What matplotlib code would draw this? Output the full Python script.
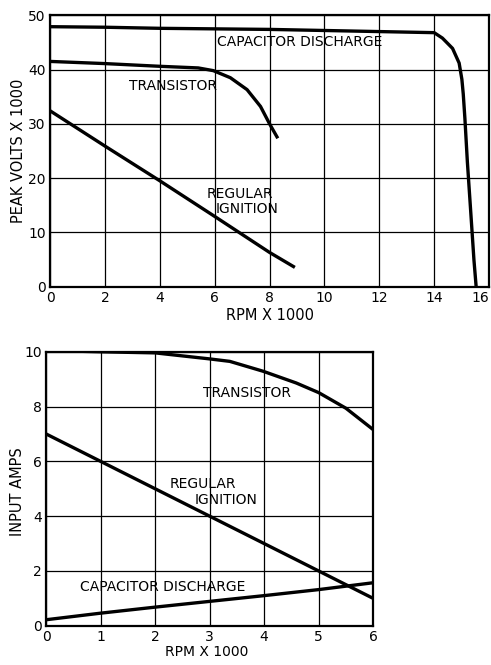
import matplotlib.pyplot as plt

# --- haut : tension de crête en fonction du régime ---
rpm_cd_top = [0, 2, 4, 6, 8, 10, 12, 14, 14.3, 14.67, 14.91, 15.01, 15.06, 15.12, 15.21, 15.33, 15.45, 15.53]
volts_cd = [47.9, 47.8, 47.6, 47.5, 47.4, 47.2, 47.0, 46.8, 45.8, 43.9, 41.2, 38.2, 35.5, 31.0, 23.0, 14.0, 4.9, 0.0]

rpm_tr_top = [0, 2, 4, 5.4, 5.95, 6.57, 7.18, 7.67, 8.0, 8.27]
volts_tr = [41.5, 41.1, 40.6, 40.3, 39.8, 38.5, 36.3, 33.2, 30.0, 27.6]

rpm_reg_top = [0, 2, 4, 5.95, 8, 8.87]
volts_reg = [32.4, 25.9, 19.5, 13.1, 6.3, 3.7]

# --- bas : courant d'entrée ---
rpm_tr_bot = [0, 1, 2, 3, 3.37, 3.98, 4.59, 5.0, 5.5, 6.0]
amps_tr = [10.05, 10.0, 9.96, 9.74, 9.65, 9.29, 8.86, 8.51, 7.94, 7.16]

rpm_reg_bot = [0, 1, 2, 3, 4, 5, 6]
amps_reg = [7.0, 6.0, 5.0, 4.0, 3.0, 2.0, 1.0]

rpm_cd_bot = [0, 1, 2, 3, 4, 5, 6]
amps_cd = [0.22, 0.46, 0.68, 0.89, 1.10, 1.32, 1.57]

xticks_top = [0, 2, 4, 6, 8, 10, 12, 14, 16]
yticks_top = [0, 10, 20, 30, 40, 50]
xticks_bot = [0, 1, 2, 3, 4, 5, 6]
yticks_bot = [0, 2, 4, 6, 8, 10]

plt.rcParams['font.family'] = ['DejaVu Sans']

fig = plt.figure(figsize=(4.91, 6.65), dpi=100)
ax1 = fig.add_axes([0.102, 0.569, 0.894, 0.408])
ax2 = fig.add_axes([0.094, 0.059, 0.666, 0.412])

lw = 2.4
fs = 10


def style(ax, xt, yt, xlab, ylab):
    ax.set_xlim(xt[0], xt[-1])
    ax.set_ylim(yt[0], yt[-1])
    ax.set_xticks(xt)
    ax.set_yticks(yt)
    ax.grid(True, color='black', linewidth=0.9)
    ax.tick_params(length=0, labelsize=10, pad=3)
    for s in ax.spines.values():
        s.set_linewidth(1.6)
    ax.set_xlabel(xlab, fontsize=10.5, labelpad=2)
    ax.set_ylabel(ylab, fontsize=10.5, labelpad=2)


style(ax1, xticks_top, yticks_top, 'RPM X 1000', 'PEAK VOLTS X 1000')
ax1.get_xticklabels()[-1].set_ha('right')
ax1.plot(rpm_cd_top, volts_cd, color='black', lw=lw)
ax1.plot(rpm_tr_top, volts_tr, color='black', lw=lw)
ax1.plot(rpm_reg_top, volts_reg, color='black', lw=lw)
ax1.text(9.1, 45.0, 'CAPACITOR DISCHARGE', fontsize=fs, ha='center', va='center')
ax1.text(4.48, 36.9, 'TRANSISTOR', fontsize=fs, ha='center', va='center')
ax1.text(6.93, 17.0, 'REGULAR', fontsize=fs, ha='center', va='center')
ax1.text(7.19, 14.3, 'IGNITION', fontsize=fs, ha='center', va='center')

style(ax2, xticks_bot, yticks_bot, 'RPM X 1000', 'INPUT AMPS')
ax2.xaxis.label.set_fontsize(10)
ax2.xaxis.set_label_coords(0.49, -0.072)
ax2.yaxis.set_label_coords(-0.065, 0.49)
ax2.plot(rpm_tr_bot, amps_tr, color='black', lw=lw)
ax2.plot(rpm_reg_bot, amps_reg, color='black', lw=lw)
ax2.plot(rpm_cd_bot, amps_cd, color='black', lw=lw)
ax2.text(3.69, 8.5, 'TRANSISTOR', fontsize=fs, ha='center', va='center')
ax2.text(2.87, 5.18, 'REGULAR', fontsize=fs, ha='center', va='center')
ax2.text(3.3, 4.6, 'IGNITION', fontsize=fs, ha='center', va='center')
ax2.text(2.14, 1.42, 'CAPACITOR DISCHARGE', fontsize=fs, ha='center', va='center')

fig.savefig('out.png', dpi=100)
